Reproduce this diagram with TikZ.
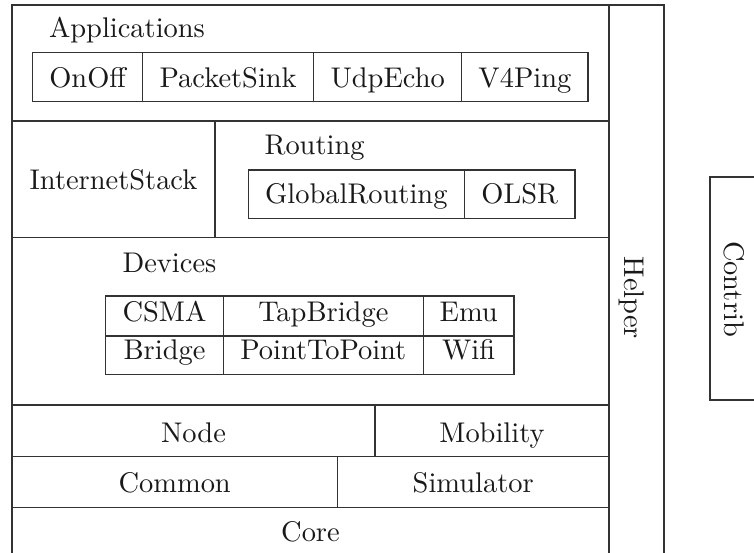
\documentclass[tikz,border=0pt]{standalone}
\tikzset{
  wall/.style={draw=black!80, line width=0.4pt},
  lbl/.style={anchor=base, inner sep=0pt, text=black!90},
  title/.style={anchor=base west, inner sep=0pt, text=black!90}
}
\begin{document}
\begin{tikzpicture}[x=0.3515pt, y=-0.3515pt]
	\useasboundingbox (0,0) rectangle (754,553); %page size
	\clip (0,0) rectangle (754,553);
	\draw[wall] (12,570)--(12,5)--(664,5)--(664,570); %outer frame with helper column
	\draw[wall] (609,5)--(609,570); %left edge of helper column
	\draw[wall] (12,121)--(609,121); %below applications
	\draw[wall] (12,237.3)--(609,237.3); %below internet stack
	\draw[wall] (12,405)--(609,405); %below devices
	\draw[wall] (12,456.3)--(609,456.3); %below node
	\draw[wall] (12,507.7)--(609,507.7); %below common
	\draw[wall] (215,121)--(215,237.3); %internet stack | routing
	\draw[wall] (375,405)--(375,456.3); %node | mobility
	\draw[wall] (337.3,456.3)--(337.3,507.7); %common | simulator
	\draw[wall] (32.7,52.7) rectangle (588,101.3); %application boxes
	\foreach \x in {142.7,313.7,461.7}
		\draw[wall] (\x,52.7)--(\x,101.3);
	\draw[wall] (248.3,170) rectangle (575,218.3); %routing boxes
	\draw[wall] (464.3,170)--(464.3,218.3);
	\draw[wall] (105.7,296) rectangle (514,374.3); %device table
	\draw[wall] (105.7,336)--(514,336);
	\foreach \x in {223.3,423.3}
		\draw[wall] (\x,296)--(\x,374.3);
	\draw[wall] (710,177) rectangle (790,400); %contrib box
	\node[title] (applications) at (48.5,37.3) {Applications}; %applications label
	\node[lbl] (onoff) at (87.7,87.3) {OnOff};
	\node[lbl] (packetsink) at (228.2,87.3) {PacketSink};
	\node[lbl] (udpecho) at (387.7,87.3) {UdpEcho};
	\node[lbl] (v4ping) at (524.9,87.3) {V4Ping};
	\node[lbl] (internetstack) at (113.5,189.3) {InternetStack}; %internet stack
	\node[title] (routing) at (264,155) {Routing}; %routing label
	\node[lbl] (globalrouting) at (356.3,203.3) {GlobalRouting};
	\node[lbl] (olsr) at (519.7,203.3) {OLSR};
	\node[title] (devices) at (122,272.3) {Devices}; %devices label
	\node[lbl] (csma) at (164.5,321.7) {CSMA};
	\node[lbl] (tapbridge) at (323.3,321.7) {TapBridge};
	\node[lbl] (emu) at (468.7,321.7) {Emu};
	\node[lbl] (bridge) at (164.5,360) {Bridge};
	\node[lbl] (pointtopoint) at (323.3,360) {PointToPoint};
	\node[lbl] (wifi) at (468.7,360) {Wifi};
	\node[lbl] (node) at (193.5,442.7) {Node}; %bottom layers
	\node[lbl] (mobility) at (492,442.7) {Mobility};
	\node[lbl] (common) at (174.7,492.7) {Common};
	\node[lbl] (simulator) at (473.2,492.7) {Simulator};
	\node[lbl] (core) at (310.5,541.7) {Core};
	\node[rotate=-90, inner sep=0pt, text=black!90] (helper) at (632,298) {Helper}; %helper column
	\node[rotate=-90, inner sep=0pt, text=black!90] (contrib) at (734.5,289) {Contrib}; %contrib box
\end{tikzpicture}
\end{document}
